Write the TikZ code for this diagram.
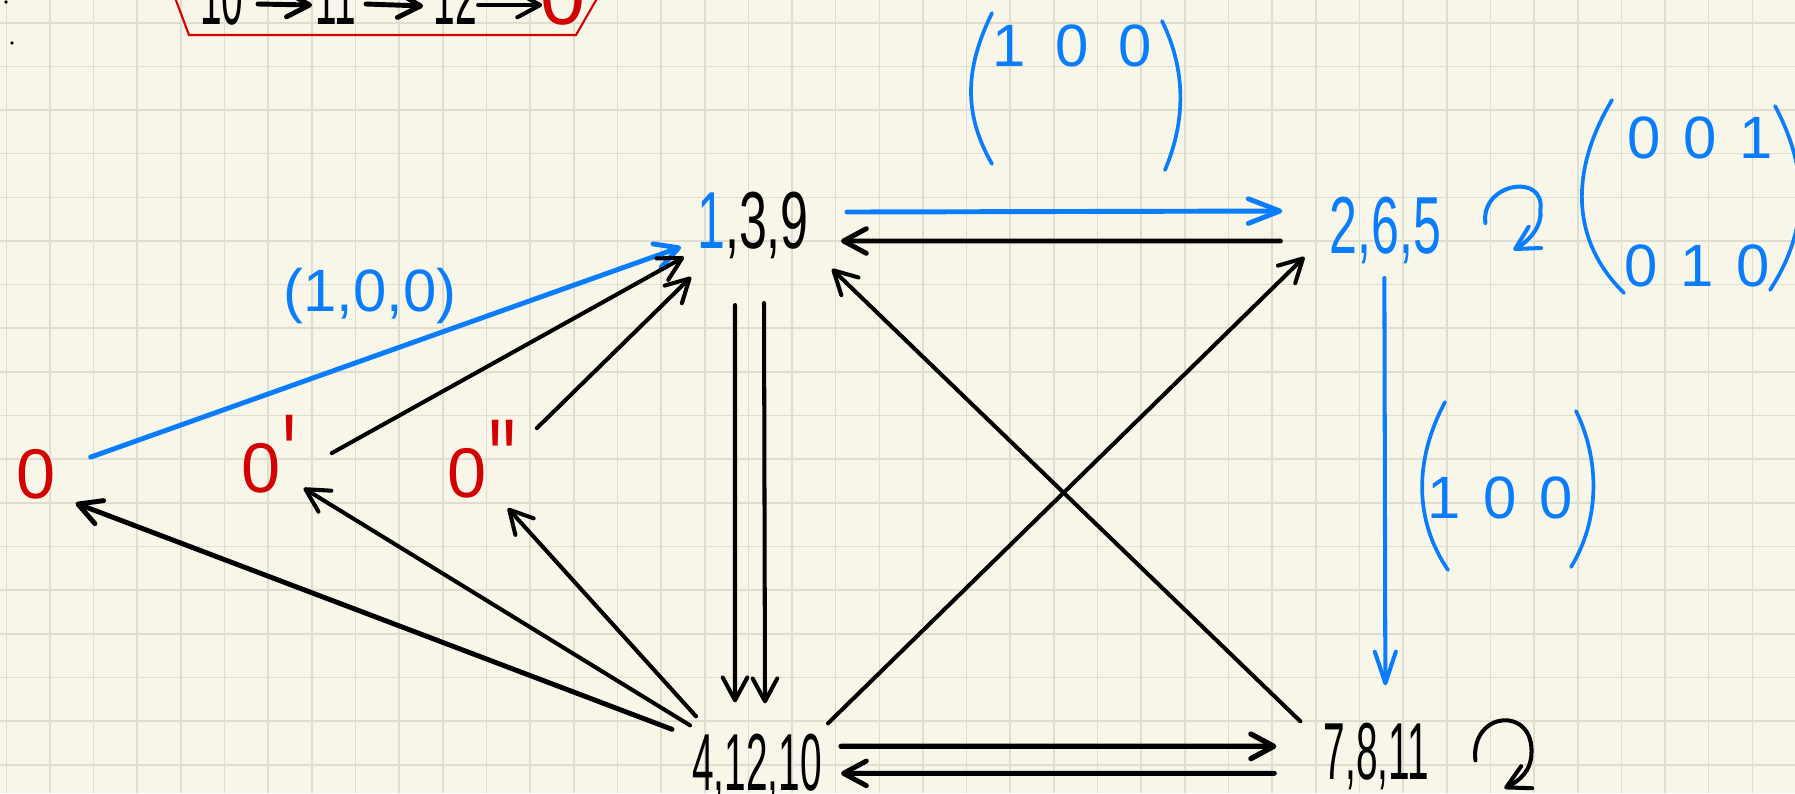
\documentclass[tikz,border=0pt]{standalone}
\usepackage{xcolor}
\usepackage{fontspec}
\usepackage{tikz}
\usetikzlibrary{arrows.meta, positioning, calc}
\setmainfont{Liberation Sans}
\newfontfamily\narrowhand[FakeStretch=0.62]{Liberation Sans}
\newfontfamily\slimhand[FakeStretch=0.48]{Liberation Sans}
\definecolor{paperbg}{HTML}{F8F6E9}
\definecolor{papergrid}{HTML}{DEDDD0}
\definecolor{inkblue}{HTML}{0A7DFF}
\definecolor{inkred}{HTML}{D20000}
\newcommand{\zeromark}[1]{0\rlap{\hspace{0.5pt}\raisebox{-1.5pt}{\fontsize{34pt}{34pt}\narrowhand #1}}}
\newcommand{\mgap}{\hspace{0.5em}}
\newcommand{\tgap}{\hspace{0.38em}}

\begin{document}
\begin{tikzpicture}[
        x=0.01cm, y=-0.01cm, on grid,
        gridline/.style={papergrid, line width=0.45pt},
        digits/.style={inner sep=0pt, text height=16.5pt, text depth=0pt, font=\fontsize{23pt}{23pt}\narrowhand},
        slimdigits/.style={digits, font=\fontsize{23pt}{23pt}\slimhand},
        zeros/.style={inner sep=0pt, text height=14.3pt, text depth=0pt, font=\fontsize{20pt}{20pt}\selectfont, text=inkred},
        entries/.style={inner sep=0pt, text height=12pt, text depth=0pt, font=\fontsize{17pt}{17pt}\selectfont, text=inkblue},
        speck/.style={circle, fill=black, inner sep=0pt, minimum size=1.1pt},
        line/.style={-{Straight Barb[length=6.5pt,width=7pt,round]}, line width=1.15pt, line cap=round, black},
        blueline/.style={line, inkblue},
        paren/.style={line width=1.05pt, line cap=round, inkblue},
        redbox/.style={line width=0.6pt, inkred}
    ]
        \useasboundingbox (0,0) rectangle (1795,793);
        \clip (0,0) rectangle (1795,793);
        \fill [paperbg] (0,0) rectangle (1795,793);
        \foreach \i in {0,...,40} \draw [gridline] ({6.3+43.65*\i},0) -- ++(0,793);
        \foreach \j in {0,...,17} \draw [gridline] (0,{22.7+43.65*\j}) -- ++(1795,0);

        \node (speckA) [speck] at (6,2) {};
        \node (speckB) [speck] at (12,43) {};

        \draw [redbox] (174,-5) -- (189,35) -- (576,35) -- (599,-5);
        \node (n10) [slimdigits] at (222,-5) {10};
        \node (n11) [slimdigits, right=1.14cm of n10] {11};
        \node (n12) [slimdigits, right=1.19cm of n11] {12};
        \node (ntop) [zeros, text height=16.5pt, font=\fontsize{23pt}{23pt}\selectfont, right=1.08cm of n12] {0};

        \node (n139) [digits] at (753,219) {{\color{inkblue}1},3,9};
        \node (n265) [digits, text=inkblue, below right=0.05cm and 6.32cm of n139] {2,6,5};
        \node (n41210) [slimdigits, below right=5.42cm and 0.04cm of n139] {4,12,10};
        \node (n781) [slimdigits, above right=0.11cm and 6.19cm of n41210] {7,8,11};
        \node (n0p) [zeros, below left=2.48cm and 4.92cm of n139] {\zeromark{'}};
        \node (n0pp) [zeros, below right=0.05cm and 2.06cm of n0p] {\zeromark{''}};
        \node (n0) [zeros, below left=0.06cm and 2.25cm of n0p] {0};

        \node (lab100) [entries, below left=0.71cm and 3.83cm of n139] {(1,0,0)};
        \node (rowA) [entries, above right=1.74cm and 3.19cm of n139] {1\mgap 0\mgap 0};
        \node (rowB) [entries, above right=0.87cm and 3.15cm of n265] {0\tgap 0\tgap 1};
        \node (rowC) [entries, below left=1.28cm and 0.03cm of rowB] {0\tgap 1\tgap 0};
        \node (rowD) [entries, below right=2.73cm and 1.15cm of n265] {1\tgap 0\tgap 0};

        \draw [paren] (992,13) .. controls (964,70) and (964,115) .. (992,164);
        \draw [paren] (1162,21) .. controls (1186,70) and (1186,120) .. (1165,170);
        \draw [paren] (1612,100) .. controls (1570,170) and (1570,240) .. (1624,293);
        \draw [paren] (1775,106) .. controls (1809,170) and (1809,230) .. (1770,290);
        \draw [paren] (1445,402) .. controls (1414,460) and (1414,520) .. (1448,570);
        \draw [paren] (1576,411) .. controls (1600,460) and (1600,520) .. (1571,567);

        \draw [line, line width=1.4pt] ($(n10)+(36,9)$) -- ($(n11)+(-24,10)$);
        \draw [line, line width=1.4pt] ($(n11)+(30,9)$) -- ($(n12)+(-32,11)$);
        \draw [line] ($(n12)+(23,10)$) -- ($(ntop)+(-21,10)$);

        \draw [blueline, line width=1.4pt] ($(n0)+(55,-16)$) -- ($(n139)+(-72,28)$);
        \draw [line] ($(n0p)+(71,-14)$) -- ($(n139)+(-69,38)$);
        \draw [line] ($(n0pp)+(70,-44)$) -- ($(n139)+(-62,58)$);
        \draw [line] ($(n139)+(-18,86)$) -- ($(n41210)+(-22,-59)$);
        \draw [line] ($(n139)+(11,84)$) -- ($(n41210)+(8,-58)$);
        \draw [blueline, line width=1.4pt, -{Straight Barb[length=9pt,width=7pt,round]}] ($(n139)+(94,-7)$) -- ($(n265)+(-103,-13)$);
        \draw [line, line width=1.4pt] ($(n265)+(-105,17)$) -- ($(n139)+(88,22)$);
        \draw [line, line width=1.4pt] ($(n41210)+(-85,-32)$) -- ($(n0)+(40,30)$);
        \draw [line] ($(n41210)+(-67,-36)$) -- ($(n0p)+(43,21)$);
        \draw [line] ($(n41210)+(-61,-45)$) -- ($(n0pp)+(41,36)$);
        \draw [line] ($(n41210)+(71,-38)$) -- ($(n265)+(-81,33)$);
        \draw [line] ($(n781)+(-76,-29)$) -- ($(n139)+(79,50)$);
        \draw [blueline, -{Straight Barb[length=9pt,width=6pt,round]}] ($(n265)+(-1,54)$) -- ($(n781)+(9,-65)$);
        \draw [line, line width=1.5pt] ($(n41210)+(84,-15)$) -- ($(n781)+(-100,-4)$);
        \draw [line, line width=1.4pt] ($(n781)+(-102,23)$) -- ($(n41210)+(84,12)$);

        \draw [blueline] ($(n265)+(100,-1)$) .. controls +(-5,-40) and +(5,-38) .. ($(n265)+(155,-14)$) .. controls +(2,15) and +(17,-10) .. ($(n265)+(128,26)$);
        \draw [line] ($(n781)+(99,10)$) .. controls +(-5,-50) and +(4,-50) .. ($(n781)+(155,5)$) .. controls +(-1,15) and +(16,-8) .. ($(n781)+(128,38)$);
    \end{tikzpicture}
\end{document}
